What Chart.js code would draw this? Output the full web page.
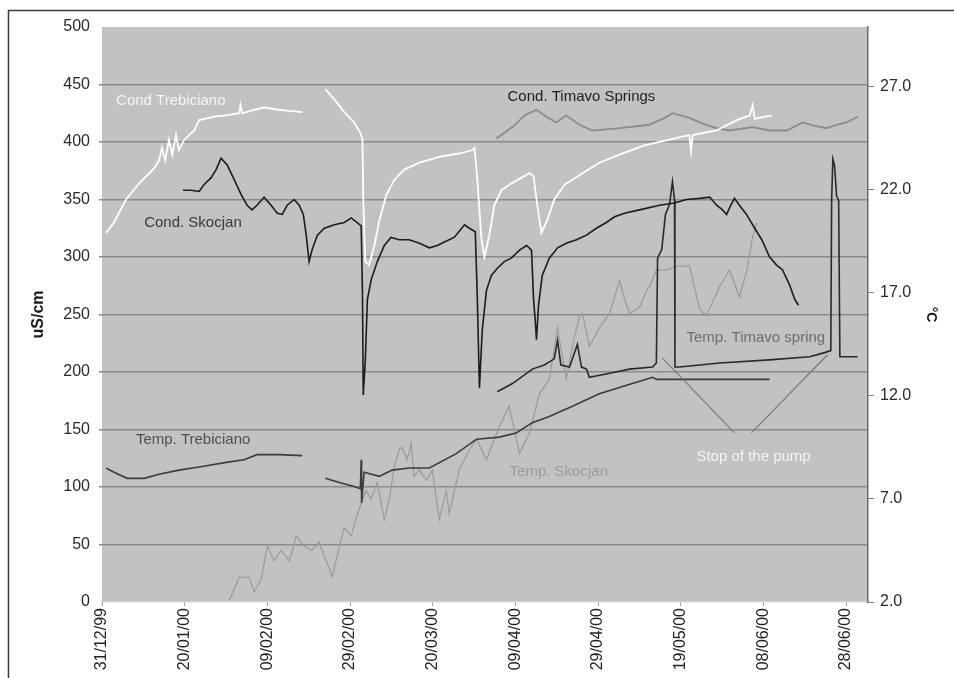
<!DOCTYPE html>
<html>
<head>
<meta charset="utf-8">
<script src="https://cdn.jsdelivr.net/npm/chart.js@4.4.0/dist/chart.umd.min.js"></script>
<style>
  html, body { margin: 0; padding: 0; background: #fff; }
  #wrap { width: 954px; height: 678px; }
</style>
</head>
<body>
<div id="wrap"><canvas id="chart" width="954" height="678"></canvas></div>
<script>
// x = days since 31/12/99
const xTickDays = [0, 20, 40, 60, 80, 100, 120, 140, 160, 180];
const xTickLabels = ['31/12/99', '20/01/00', '09/02/00', '29/02/00', '20/03/00',
                     '09/04/00', '29/04/00', '19/05/00', '08/06/00', '28/06/00'];
const tempTicks = [2, 7, 12, 17, 22, 27];

// conductivity (uS/cm), left axis
const condTrebDays = [
  1.0, 2.9, 5.8, 9.0, 12.6, 13.8, 14.5, 15.3, 16.2, 17.0,
  17.9, 18.6, 19.9, 22.3, 23.5, 25.9, 27.1, 29.5, 33.2, 33.5,
  33.9, 36.8, 39.2, 42.9, 45.3, 48.4, 51.0, 54.0, 56.2, 58.6,
  61.0, 62.5, 63.0, 63.2, 63.7, 64.6, 65.9, 67.1, 68.8, 70.7,
  73.1, 76.8, 81.6, 86.4, 89.6, 90.1, 90.8, 91.8, 92.5, 93.7,
  94.9, 96.6, 99.0, 101.5, 103.4, 104.4, 105.3, 106.3, 107.7, 109.4,
  111.9, 115.5, 120.3, 125.2, 131.2, 137.3, 142.1, 142.5, 142.9, 148.7,
  153.5, 156.7, 157.4, 157.9, 160.3, 162.0];
const condTrebVals = [
  321, 330, 350, 364, 377, 384, 395, 384, 402, 389,
  406, 393, 402, 410, 419, 421, 422, 423, 425, 432,
  425, 428, 430, 428, 427, 426, null, 446, 437, 426,
  417, 408, 402, 350, 296, 293, 310, 332, 354, 367,
  376, 382, 387, 390, 393, 395, 367, 315, 300, 319,
  345, 358, 364, 369, 373, 370, 345, 321, 332, 350,
  363, 371, 382, 389, 397, 402, 406, 392, 406, 410,
  419, 423, 432, 420, 422, 423];

const condSkocDays = [
  19.6, 21.5, 23.5, 24.7, 26.4, 27.6, 28.8, 30.3, 32.0, 33.7,
  35.1, 36.3, 37.5, 39.2, 40.9, 42.4, 43.6, 44.8, 46.5, 47.7,
  48.7, 49.4, 50.1, 50.8, 52.1, 53.8, 56.2, 58.6, 60.3, 61.7,
  62.7, 63.0, 63.2, 63.7, 64.2, 65.1, 66.6, 68.3, 69.9, 71.9,
  74.3, 76.8, 79.2, 81.1, 82.8, 85.2, 87.7, 88.9, 90.3, 90.8,
  91.3, 92.0, 93.0, 94.2, 95.6, 97.3, 99.0, 101.0, 102.7, 103.9,
  104.4, 104.8, 105.1, 105.6, 106.5, 108.2, 110.2, 112.3, 114.8, 117.2,
  119.6, 122.0, 124.0, 126.4, 130.0, 134.9, 138.4, 141.4, 144.6, 147.0,
  148.7, 150.1, 151.1, 152.1, 153.0, 154.2, 155.9, 157.9, 159.6, 161.5,
  163.2, 164.6, 166.3, 167.6, 168.5];
const condSkocVals = [
  358, 358, 357, 363, 369, 376, 386, 380, 367, 354,
  345, 341, 345, 352, 345, 338, 337, 345, 350, 345,
  337, 319, 296, 306, 319, 325, 328, 330, 334, 330,
  327, 271, 180, 210, 263, 280, 296, 310, 317, 315,
  315, 312, 308, 310, 313, 317, 328, 325, 322, 263,
  186, 237, 271, 284, 290, 296, 299, 306, 310, 306,
  263, 245, 228, 258, 284, 299, 308, 312, 315, 319,
  325, 330, 335, 338, 341, 345, 347, 350, 351, 352,
  345, 341, 337, 345, 351, 345, 337, 325, 315, 300,
  293, 289, 276, 263, 258];

const condTimDays = [
  95.4, 97.3, 99.3, 102.2, 105.1, 107.5, 109.9, 112.3, 115.5, 118.6,
  122.0, 125.2, 132.4, 136.1, 138.0, 142.1, 145.3, 148.7, 151.8, 157.4,
  161.5, 165.6, 169.5, 172.4, 175.3, 177.7, 180.1, 182.8];
const condTimVals = [
  403, 408, 413, 423, 428, 422, 417, 423, 415, 410,
  411, 412, 415, 421, 425, 421, 416, 412, 410, 413,
  410, 410, 417, 414, 412, 415, 417, 422];

// temperature (°C), right axis
const tempTrebDays = [
  1.0, 2.9, 6.1, 10.2, 13.8, 18.6, 23.5, 30.8, 34.4, 37.5,
  42.9, 48.4, 51.0, 54.0, 57.4, 61.0, 62.5, 62.7, 62.8, 63.4,
  67.1, 70.2, 74.3, 79.2, 85.7, 90.6, 96.1, 100.2, 104.1, 108.2,
  113.8, 120.3, 128.3, 133.2, 134.1, 144.6, 161.5];
const tempTrebVals = [
  8.5, 8.3, 8.0, 8.0, 8.2, 8.4, 8.55, 8.8, 8.9, 9.15,
  9.15, 9.1, null, 8.0, 7.8, 7.6, 7.5, 8.9, 6.8, 8.3,
  8.1, 8.4, 8.5, 8.5, 9.2, 9.9, 10.0, 10.2, 10.7, 11.0,
  11.5, 12.1, 12.6, 12.9, 12.8, 12.8, 12.8];

const tempSkocDays = [
  30.8, 33.2, 35.6, 36.8, 38.5, 40.0, 41.6, 43.3, 45.3, 47.0,
  48.9, 50.8, 52.5, 55.0, 55.7, 57.4, 58.6, 60.3, 61.5, 62.7,
  63.9, 65.1, 66.6, 68.3, 69.5, 70.7, 71.9, 72.6, 73.8, 74.8,
  75.5, 76.8, 78.5, 79.9, 81.6, 83.3, 84.0, 86.4, 88.9, 90.6,
  93.0, 96.1, 98.5, 101.0, 103.4, 105.8, 108.2, 110.2, 110.7, 112.3,
  114.3, 115.5, 116.2, 117.9, 120.3, 122.8, 125.2, 126.4, 127.6, 130.0,
  131.7, 132.4, 134.1, 136.6, 139.0, 142.1, 144.6, 146.2, 149.4, 151.8,
  154.2, 155.9, 157.4, 158.4];
const tempSkocVals = [
  2.1, 3.2, 3.2, 2.5, 3.1, 4.7, 4.0, 4.5, 4.0, 5.2,
  4.7, 4.5, 4.9, 3.6, 3.2, 4.7, 5.6, 5.2, 6.1, 6.8,
  7.4, 7.0, 7.8, 6.0, 7.0, 8.55, 9.4, 9.5, 8.9, 9.7,
  8.1, 8.4, 7.9, 8.4, 6.0, 7.4, 6.3, 8.4, 9.4, 9.9,
  8.9, 10.5, 11.5, 9.2, 10.2, 12.1, 12.8, 15.3, 14.7, 12.8,
  14.9, 15.8, 16.0, 14.4, 15.3, 16.0, 17.6, 16.7, 16.0, 16.3,
  17.1, 17.3, 18.1, 18.1, 18.3, 18.3, 16.2, 15.9, 17.3, 18.1,
  16.8, 18.0, 19.7, 20.4];

const tempTimDays = [
  95.6, 99.3, 104.1, 107.0, 109.4, 110.2, 111.0, 113.1, 115.0, 116.0,
  117.2, 117.9, 122.8, 127.6, 133.2, 134.1, 134.4, 135.4, 136.3, 137.3,
  138.0, 138.5, 138.6, 139.7, 149.4, 161.5, 171.2, 174.8, 176.3, 176.5,
  176.8, 177.2, 177.7, 178.2, 178.5, 182.8];
const tempTimVals = [
  12.2, 12.6, 13.3, 13.5, 13.8, 14.7, 13.5, 13.4, 14.5, 13.4,
  13.3, 12.9, 13.1, 13.3, 13.4, 13.6, 18.7, 19.1, 20.8, 21.3,
  22.4, 21.5, 13.4, 13.4, 13.6, 13.75, 13.9, 14.1, 14.2, 21.5,
  23.5, 23.2, 21.7, 21.5, 13.9, 13.9];

// text labels placed in data units (day, uS/cm)
const notes = [
  { text: 'Cond Trebiciano',      day: 3.4,   val: 436, color: '#f4f4f4' },
  { text: 'Cond. Timavo Springs', day: 98.1,  val: 439, color: '#1e1e1e' },
  { text: 'Cond. Skocjan',        day: 10.2,  val: 330, color: '#3a3a3a' },
  { text: 'Temp. Trebiciano',     day: 8.2,   val: 141, color: '#505050' },
  { text: 'Temp. Skocjan',        day: 98.6,  val: 113, color: '#9c9c9c' },
  { text: 'Temp. Timavo spring',  day: 141.4, val: 230, color: '#6e6e6e' },
  { text: 'Stop of the pump',     day: 143.8, val: 126, color: '#f2f2f2' }
];
const pumpArrows = [
  { from: [153.0, 147], to: [135.6, 212] },
  { from: [157.1, 147], to: [175.5, 215] }
];

function pts(days, vals) {
  return days.map((d, i) => ({ x: d, y: vals[i] }));
}

function line(label, days, vals, color, width, axis) {
  return {
    label,
    data: pts(days, vals),
    borderColor: color,
    borderWidth: width,
    pointRadius: 0,
    tension: 0,
    yAxisID: axis,
    spanGaps: false
  };
}

const plotBg = {
  id: 'plotBg',
  beforeDraw(chart) {
    const { ctx, chartArea: a } = chart;
    ctx.save();
    ctx.fillStyle = '#c2c2c2';
    ctx.fillRect(a.left, a.top, a.right - a.left, a.bottom - a.top);
    ctx.restore();
  },
  afterDraw(chart) {
    // outer frame of the figure
    const ctx = chart.ctx;
    ctx.save();
    ctx.strokeStyle = '#3a3a3a';
    ctx.lineWidth = 1.5;
    ctx.beginPath();
    ctx.moveTo(8.5, chart.height);
    ctx.lineTo(8.5, 10.5);
    ctx.lineTo(chart.width, 10.5);
    ctx.stroke();
    ctx.restore();
  }
};

const notesPlugin = {
  id: 'notes',
  afterDatasetsDraw(chart) {
    const { ctx, scales } = chart;
    const sx = scales.x, sy = scales.y;
    ctx.save();
    ctx.strokeStyle = '#7a7a7a';
    ctx.lineWidth = 1.2;
    pumpArrows.forEach(a => {
      ctx.beginPath();
      ctx.moveTo(sx.getPixelForValue(a.from[0]), sy.getPixelForValue(a.from[1]));
      ctx.lineTo(sx.getPixelForValue(a.to[0]), sy.getPixelForValue(a.to[1]));
      ctx.stroke();
    });
    ctx.font = '15px "Liberation Sans", Arial, sans-serif';
    ctx.textAlign = 'left';
    ctx.textBaseline = 'middle';
    notes.forEach(n => {
      ctx.fillStyle = n.color;
      ctx.fillText(n.text, sx.getPixelForValue(n.day), sy.getPixelForValue(n.val));
    });
    ctx.restore();
  }
};

Chart.defaults.font.family = '"Liberation Sans", Arial, sans-serif';

new Chart(document.getElementById('chart'), {
  type: 'line',
  data: {
    datasets: [
      line('Cond. Skocjan', condSkocDays, condSkocVals, '#1c1c1c', 1.6, 'y'),
      line('Temp. Timavo spring', tempTimDays, tempTimVals, '#2a2a2a', 1.6, 'y2'),
      line('Temp. Trebiciano', tempTrebDays, tempTrebVals, '#3c3c3c', 1.6, 'y2'),
      line('Cond Trebiciano', condTrebDays, condTrebVals, '#ffffff', 1.8, 'y'),
      line('Cond. Timavo Springs', condTimDays, condTimVals, '#8c8c8c', 1.8, 'y'),
      line('Temp. Skocjan', tempSkocDays, tempSkocVals, '#9a9a9a', 1.2, 'y2')
    ]
  },
  options: {
    responsive: false,
    animation: false,
    layout: { padding: { top: 27, left: 0, right: 0, bottom: 0 } },
    plugins: {
      legend: { display: false },
      tooltip: { enabled: false }
    },
    scales: {
      x: {
        type: 'linear',
        min: 0,
        max: 185.3,
        afterBuildTicks: axis => { axis.ticks = xTickDays.map(v => ({ value: v })); },
        afterFit: s => { s.height = 76; },
        ticks: {
          autoSkip: false,
          minRotation: 90,
          maxRotation: 90,
          padding: 2,
          color: '#222',
          font: { size: 16 },
          callback: v => xTickLabels[xTickDays.indexOf(v)]
        },
        grid: { drawOnChartArea: false, tickLength: 4, color: '#9a9a9a' },
        border: { color: '#d4d4d4', width: 1.5 }
      },
      y: {
        position: 'left',
        min: 0,
        max: 500,
        afterFit: s => { s.width = 102; },
        ticks: { stepSize: 50, padding: 9, color: '#2a2a2a', font: { size: 16 } },
        grid: {
          color: c => (c.tick && (c.tick.value === 500 || c.tick.value === 0)) ? 'rgba(0,0,0,0)' : '#8a8a8a',
          lineWidth: 1.5,
          tickLength: 3
        },
        border: { display: false },
        title: {
          display: true,
          text: 'uS/cm',
          color: '#1a1a1a',
          font: { size: 16, weight: 'bold' },
          padding: { top: 29, bottom: 0 }
        }
      },
      y2: {
        position: 'right',
        min: 2,
        max: 29.9,
        afterBuildTicks: axis => { axis.ticks = tempTicks.map(v => ({ value: v })); },
        afterFit: s => { s.width = 86; },
        ticks: {
          padding: 6,
          color: '#2a2a2a',
          font: { size: 16 },
          callback: v => Number(v).toFixed(1)
        },
        grid: { drawOnChartArea: false, tickLength: 6, color: '#777' },
        border: { display: true, color: '#6a6a6a', width: 1.5 },
        title: {
          display: true,
          text: '°C',
          color: '#1a1a1a',
          font: { size: 14, weight: 'bold' },
          padding: { top: 15, bottom: 0 }
        }
      }
    }
  },
  plugins: [plotBg, notesPlugin]
});
</script>
</body>
</html>
